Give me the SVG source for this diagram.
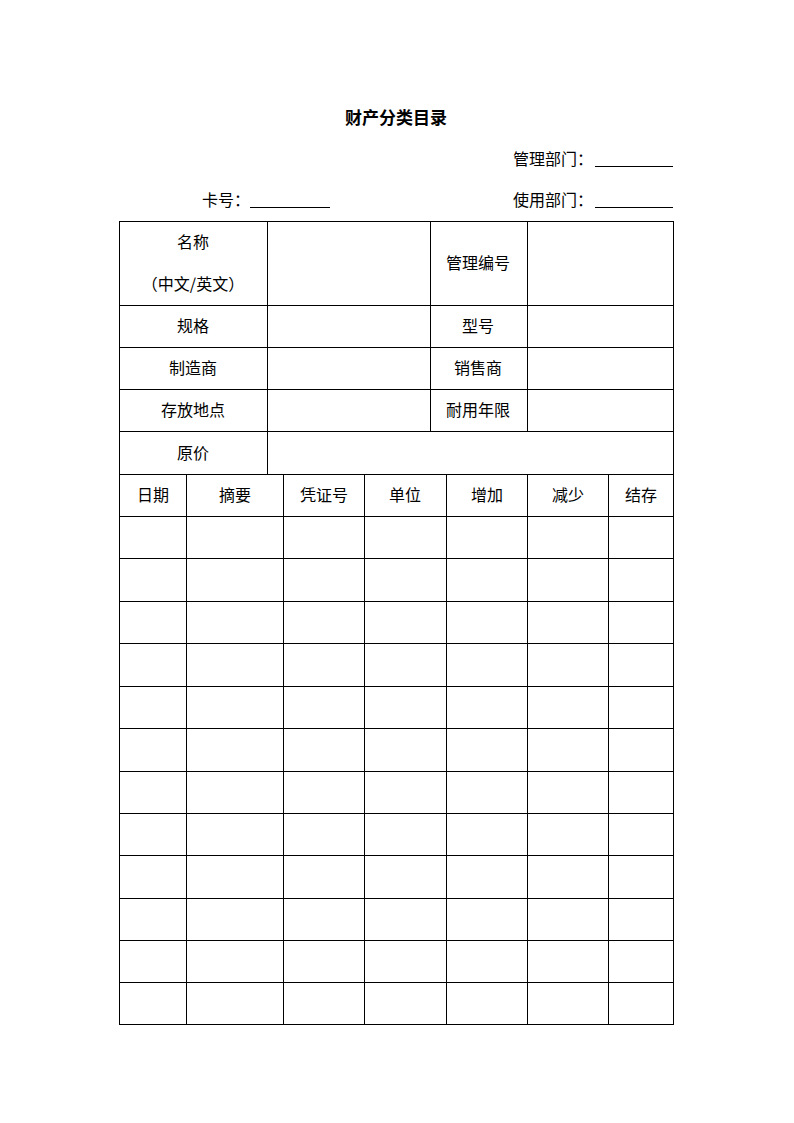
<svg xmlns="http://www.w3.org/2000/svg" width="794" height="1123" viewBox="0 0 794 1123">
<style>
text{font-family:"Noto Sans CJK SC","Liberation Sans",sans-serif;font-size:16px;fill:#000;dominant-baseline:central}
.c{text-anchor:middle}
.t{font-size:17px;font-weight:bold}
.ln{stroke:#000;stroke-width:1;fill:none;shape-rendering:crispEdges}
</style>
<rect width="794" height="1123" fill="#fff"/>
<g id="title"><text class="c t" x="396" y="116">财产分类目录</text></g>
<g id="field-mgmt-dept"><text x="513" y="158">管理部门：</text><line class="ln" x1="595" y1="166.5" x2="673" y2="166.5"/></g>
<g id="field-card"><text x="202" y="199">卡号：</text><line class="ln" x1="250" y1="207.5" x2="330" y2="207.5"/></g>
<g id="field-use-dept"><text x="513" y="199">使用部门：</text><line class="ln" x1="595" y1="207.5" x2="673" y2="207.5"/></g>
<g id="table-grid" class="ln">
<rect x="119.5" y="221.5" width="554" height="803"/>
<path d="M119 305.5H674M119 347.5H674M119 389.5H674M119 431.5H674M119 474.5H674M119 516.5H674M119 558.5H674M119 601.5H674M119 643.5H674M119 686.5H674M119 728.5H674M119 771.5H674M119 813.5H674M119 855.5H674M119 898.5H674M119 940.5H674M119 982.5H674"/>
<path d="M267.5 221V474M430.5 221V431M527.5 221V431"/>
<path d="M186.5 474V1024M283.5 474V1024M364.5 474V1024M446.5 474V1024M527.5 474V1024M608.5 474V1024"/>
</g>
<g id="info-labels">
<g id="cell-name"><text class="c" x="193" y="241">名称</text><text class="c" x="193" y="283">（中文/英文）</text></g>
<g id="cell-mgmt-no"><text class="c" x="478" y="262">管理编号</text></g>
<g id="cell-spec"><text class="c" x="193" y="325">规格</text></g>
<g id="cell-model"><text class="c" x="478" y="325">型号</text></g>
<g id="cell-maker"><text class="c" x="193" y="367">制造商</text></g>
<g id="cell-seller"><text class="c" x="478" y="367">销售商</text></g>
<g id="cell-location"><text class="c" x="193" y="409">存放地点</text></g>
<g id="cell-life"><text class="c" x="478" y="409">耐用年限</text></g>
<g id="cell-price"><text class="c" x="193" y="452">原价</text></g>
</g>
<g id="column-headers">
<text class="c" x="153" y="494">日期</text>
<text class="c" x="235" y="494">摘要</text>
<text class="c" x="324" y="494">凭证号</text>
<text class="c" x="405" y="494">单位</text>
<text class="c" x="487" y="494">增加</text>
<text class="c" x="568" y="494">减少</text>
<text class="c" x="641" y="494">结存</text>
</g>
</svg>
